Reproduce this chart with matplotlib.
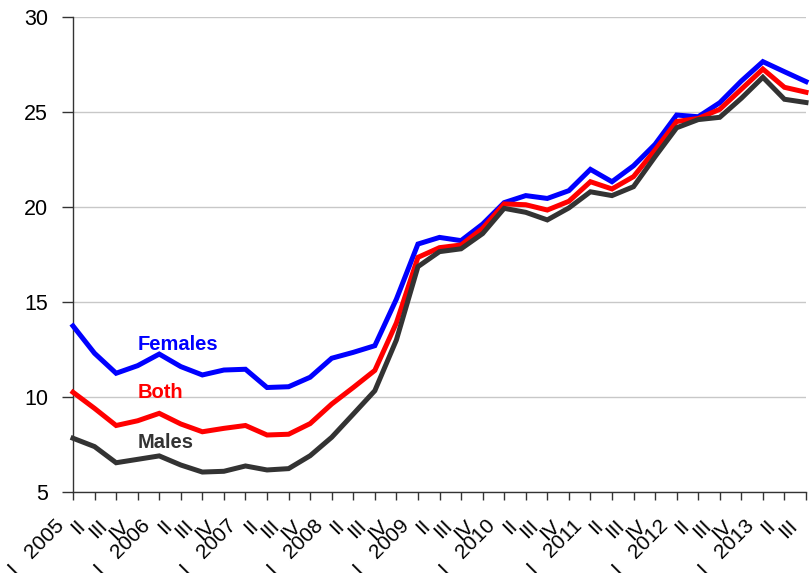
import matplotlib
matplotlib.use("Agg")
import matplotlib.pyplot as plt
import matplotlib.transforms as mtrans

plt.rcParams['font.family'] = ['Liberation Sans', 'DejaVu Sans']

years = [2005, 2006, 2007, 2008, 2009, 2010, 2011, 2012, 2013]
quarters = ["I", "II", "III", "IV"]

females = [13.74, 12.3, 11.25, 11.65, 12.26, 11.6, 11.16, 11.42, 11.46, 10.5,
           10.54, 11.04, 12.04, 12.35, 12.7, 15.15, 18.05, 18.4, 18.23, 19.1,
           20.23, 20.6, 20.45, 20.86, 21.98, 21.33, 22.17, 23.3, 24.84, 24.75,
           25.49, 26.63, 27.65, 27.12, 26.6]
both = [10.25, 9.4, 8.5, 8.75, 9.14, 8.58, 8.17, 8.35, 8.5, 8.0,
        8.04, 8.6, 9.63, 10.5, 11.4, 13.9, 17.35, 17.86, 18.0, 18.88,
        20.16, 20.12, 19.84, 20.3, 21.33, 20.95, 21.6, 23.0, 24.5, 24.66,
        25.14, 26.2, 27.26, 26.3, 26.04]
males = [7.83, 7.39, 6.54, 6.72, 6.9, 6.42, 6.05, 6.09, 6.37, 6.16,
         6.23, 6.91, 7.88, 9.1, 10.33, 13.0, 16.86, 17.65, 17.8, 18.6,
         19.93, 19.72, 19.32, 19.95, 20.8, 20.6, 21.07, 22.65, 24.17, 24.6,
         24.72, 25.72, 26.83, 25.67, 25.5]

tick_labels = []
for y in years:
    for q in quarters:
        if q == "I":
            tick_labels.append(f"I   {y}")
        else:
            tick_labels.append(q)
tick_labels = tick_labels[:len(females)]

series_names = ["Females", "Both", "Males"]
series_colors = ["#0000ff", "#ff0000", "#333333"]
label_pos = [12.74, 10.26, 7.6]

fig = plt.figure(figsize=(8.1, 5.73), dpi=100)
ax = fig.add_axes([73/810, 1 - 492/573, (806 - 73)/810, (492 - 17)/573])

x = list(range(len(females)))
for vals, col in zip([females, both, males], series_colors):
    ax.plot(x, vals, color=col, lw=3.6, solid_joinstyle='miter', clip_on=False, zorder=3)

for name, col, yv in zip(series_names, series_colors, label_pos):
    ax.text(3, yv, name, color=col, fontsize=14.5, fontweight='bold', ha='left', va='center')

ax.set_xlim(0, len(females) - 1)
ax.set_ylim(5, 30)
ax.set_yticks([5, 10, 15, 20, 25, 30])
ax.yaxis.grid(True, color='#c8c8c8', lw=1)
ax.set_axisbelow(True)
ax.set_xticks(x)
ax.tick_params(axis='y', labelsize=15.5, length=8, width=1, color='#333333', pad=10)
ax.tick_params(axis='x', length=6, width=1, color='#333333', pad=10)
ax.set_xticklabels(tick_labels, rotation=45, ha='right', rotation_mode='default', fontsize=15)
offset = mtrans.ScaledTranslation(-5/100, -2/100, fig.dpi_scale_trans)
for tick in ax.xaxis.get_major_ticks():
    tick.label1.set_transform(tick.label1.get_transform() + offset)
for s in ['top', 'right']:
    ax.spines[s].set_visible(False)
for s in ['left', 'bottom']:
    ax.spines[s].set_color('#333333')
    ax.spines[s].set_linewidth(1)

fig.savefig("out.png", dpi=100)
